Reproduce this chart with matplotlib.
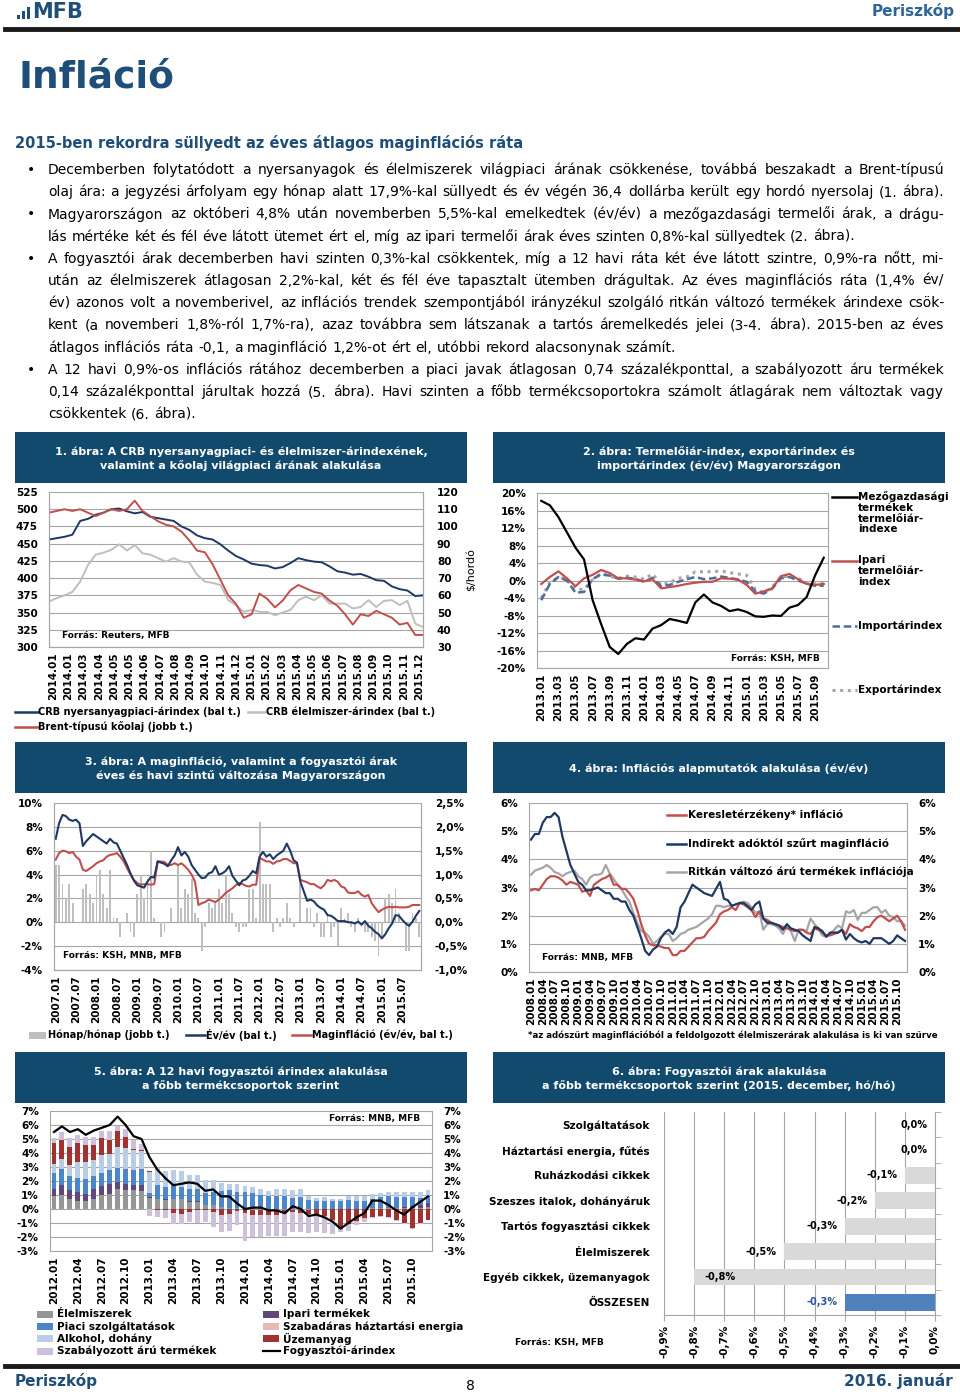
import numpy as np
import matplotlib.pyplot as plt
from matplotlib.lines import Line2D
from matplotlib.patches import Rectangle

plt.rcParams['font.family'] = ['DejaVu Sans']
plt.rcParams['font.weight'] = 'bold'
plt.rcParams['axes.linewidth'] = 0.8

W, H = 960, 1394
NAVY = '#124A6E'
HEAD = '#1F4E79'
GRID = '#A6A6A6'

# ---------------- szöveg ----------------
body_lines = [
    "Decemberben folytatódott a nyersanyagok és élelmiszerek világpiaci árának csökkenése, továbbá beszakadt a Brent-típusú",
    "olaj ára: a jegyzési árfolyam egy hónap alatt 17,9%-kal süllyedt és év végén 36,4 dollárba került egy hordó nyersolaj (1. ábra).",
    "Magyarországon az októberi 4,8% után novemberben 5,5%-kal emelkedtek (év/év) a mezőgazdasági termelői árak, a drágu-",
    "lás mértéke két és fél éve látott ütemet ért el, míg az ipari termelői árak éves szinten 0,8%-kal süllyedtek (2. ábra).",
    "A fogyasztói árak decemberben havi szinten 0,3%-kal csökkentek, míg a 12 havi ráta két éve látott szintre, 0,9%-ra nőtt, mi-",
    "után az élelmiszerek átlagosan 2,2%-kal, két és fél éve tapasztalt ütemben drágultak. Az éves maginflációs ráta (1,4% év/",
    "év) azonos volt a novemberivel, az inflációs trendek szempontjából irányzékul szolgáló ritkán változó termékek árindexe csök-",
    "kent (a novemberi 1,8%-ról 1,7%-ra), azaz továbbra sem látszanak a tartós áremelkedés jelei (3-4. ábra). 2015-ben az éves",
    "átlagos inflációs ráta -0,1, a maginfláció 1,2%-ot ért el, utóbbi rekord alacsonynak számít.",
    "A 12 havi 0,9%-os inflációs rátához decemberben a piaci javak átlagosan 0,74 százalékponttal, a szabályozott áru termékek",
    "0,14 százalékponttal járultak hozzá (5. ábra). Havi szinten a főbb termékcsoportokra számolt átlagárak nem változtak vagy",
    "csökkentek (6. ábra).",
]
bullet_rows = [0, 2, 4, 9]
ragged_rows = [3, 8, 11]

# ---------------- 1. ábra (félhavi leolvasás 2014.01 - 2015.12) ----------------
c1_labels = ['2014.01', '2014.01', '2014.03', '2014.04', '2014.05', '2014.05', '2014.06',
             '2014.07', '2014.08', '2014.09', '2014.10', '2014.11', '2014.12', '2015.01',
             '2015.02', '2015.03', '2015.04', '2015.05', '2015.06', '2015.07', '2015.08',
             '2015.09', '2015.10', '2015.11', '2015.12']
c1_crb = [456, 458, 460, 463, 483, 486, 492, 495, 500, 501,
          497, 494, 496, 489, 487, 485, 483, 475, 470, 462,
          458, 456, 449, 440, 432, 427, 421, 419, 418, 414,
          416, 422, 429, 426, 424, 423, 417, 410, 408, 405,
          406, 402, 397, 396, 388, 384, 382, 374, 375]
c1_food = [366, 371, 375, 380, 395, 419, 434, 437, 441, 449,
           440, 448, 436, 434, 429, 424, 429, 424, 423, 405,
           395, 393, 390, 368, 361, 351, 354, 351, 351, 346,
           350, 354, 368, 373, 368, 375, 363, 363, 363, 356,
           358, 368, 358, 367, 368, 361, 367, 334, 329]
c1_brent = [108, 109, 110, 109, 110, 108, 106, 108, 110, 109,
            110, 115, 109, 106, 103, 101, 100, 97, 92, 86,
            85, 78, 69, 60, 55, 47, 49, 61, 58, 53,
            57, 63, 66, 64, 62, 61, 57, 54, 49, 43,
            49, 48, 51, 49, 47, 43, 44, 37, 37]

# ---------------- 2. ábra (havi, 2013.01 - 2015.10) ----------------
c2_labels = ['2013.01', '2013.03', '2013.05', '2013.07', '2013.09', '2013.11',
             '2014.01', '2014.03', '2014.05', '2014.07', '2014.09', '2014.11',
             '2015.01', '2015.03', '2015.05', '2015.07', '2015.09']
c2_agri = [18.2, 17.2, 14.5, 11.0, 7.5, 4.8, -4.5, -10.0, -15.2, -16.8,
           -14.5, -13.2, -13.5, -11.0, -10.2, -8.8, -9.2, -9.7, -5.0, -3.2,
           -5.0, -5.8, -7.0, -6.6, -7.2, -8.2, -8.3, -8.0, -8.1, -6.2,
           -5.6, -3.8, 1.2, 5.2]
c2_ind = [-0.8, 0.8, 2.1, 0.5, -1.3, 0.5, 1.3, 2.4, 1.7, 0.5,
          0.5, 0.2, -0.2, 0.3, -1.8, -1.5, -1.2, -0.8, -0.5, -0.3,
          -0.3, 0.5, 0.4, 0.2, -1.0, -3.0, -2.5, -1.8, 1.0, 1.5,
          0.3, -0.8, -1.0, -0.8]
c2_imp = [-4.5, -0.8, 0.8, 0.0, -2.8, -2.6, 0.3, 1.5, 1.1, 0.4,
          0.6, 0.4, -0.3, 0.6, -1.3, -1.0, -0.3, 0.3, 0.8, 0.3,
          0.5, 0.9, 0.6, 0.2, -0.3, -2.5, -3.0, -1.8, 0.5, 0.8,
          0.0, -0.7, -1.2, -1.2]
c2_exp = [-4.0, -0.5, 0.8, 0.2, -2.0, -2.0, 0.2, 1.5, 1.0, 0.5,
          1.0, 0.8, 0.3, 1.5, -1.0, -0.5, 0.5, 0.8, 2.0, 2.0,
          2.0, 2.2, 1.8, 1.5, 1.2, -2.0, -2.8, -1.5, 0.8, 1.0,
          0.5, -0.5, -0.8, -0.5]

# ---------------- 3. ábra (havi, 2007.01 - 2015.12) ----------------
c3_labels = [f'{y}.{m}' for y in range(2007, 2016) for m in ('01', '07')]
c3_mm = [1.2, 1.2, 0.8, 0.5, 0.8, 0.4, 0.0, 0.0, 0.7, 0.8, 0.6, 0.4,
         1.0, 1.1, 0.6, 0.3, 1.1, 0.1, 0.1, -0.3, 0.0, 0.2, -0.2, -0.3,
         0.6, 1.0, 0.5, 0.9, 1.5, 0.1, 0.0, -0.3, -0.2, 0.0, 0.3, 0.0,
         1.2, 0.3, 0.7, 0.6, 0.9, 0.2, 0.1, -0.6, -0.1, 0.4, 0.3, 0.4,
         0.7, 0.4, 1.0, 0.6, 0.2, -0.1, -0.2, -0.1, -0.1, 0.7, 0.7, 0.1,
         2.1, 0.8, 0.8, 0.8, -0.2, 0.1, -0.1, 0.1, 0.4, 0.1, -0.1, 0.0,
         0.8, 0.0, 0.3, 0.3, -0.1, 0.2, -0.3, -0.3, 0.2, -0.3, -0.1, -0.5,
         0.3, 0.1, 0.2, -0.1, -0.2, 0.1, -0.1, -0.2, -0.2, -0.3, -0.4, -0.7,
         -0.3, 0.5, 0.6, 0.4, 0.7, 0.2, 0.0, -0.6, -0.6, 0.2, 0.1, -0.3]
c3_yy = [7.0, 8.3, 9.0, 8.9, 8.6, 8.5, 8.6, 8.3, 6.4, 6.8, 7.1, 7.4,
         7.2, 7.0, 6.8, 6.6, 7.0, 6.7, 6.6, 6.0, 5.4, 4.8, 4.1, 3.5,
         3.1, 3.0, 2.9, 3.4, 3.8, 3.75, 5.1, 5.0, 4.9, 4.7, 5.2, 5.6,
         6.3, 5.6, 5.9, 5.5, 4.8, 4.4, 4.0, 3.7, 3.75, 4.1, 4.2, 4.7,
         4.0, 4.1, 4.3, 4.7, 3.9, 3.5, 3.1, 3.5, 3.6, 3.9, 4.3, 4.1,
         5.5, 5.9, 5.5, 5.7, 5.3, 5.6, 5.8, 6.0, 6.6, 6.0, 5.2, 5.0,
         3.4, 2.6, 1.8, 1.9, 1.75, 1.4, 1.2, 1.05, 0.6, 0.55, 0.35, 0.1,
         0.1, 0.1, 0.0, 0.0, -0.1, 0.05, -0.2, 0.1, -0.3, -0.5, -0.8, -1.0,
         -1.35, -1.0, -0.5, -0.1, 0.6, 0.55, 0.2, -0.1, -0.3, 0.05, 0.55, 0.95]
c3_core = [5.25, 5.8, 6.0, 5.95, 5.8, 5.9, 5.5, 5.25, 4.4, 4.3, 4.5, 4.7,
           4.95, 5.1, 5.2, 5.5, 5.65, 5.7, 5.8, 5.5, 5.1, 4.55, 4.0, 3.55,
           3.3, 3.15, 3.2, 3.2, 3.15, 3.2, 5.1, 5.1, 5.05, 4.8, 4.8, 4.95,
           4.8, 4.95, 4.7, 4.4, 4.0, 3.4, 1.45, 1.6, 1.7, 1.9, 1.8, 1.7,
           1.9, 2.15, 2.45, 2.65, 2.85, 3.1, 3.3, 3.2, 3.05, 3.0, 3.15, 3.15,
           5.4, 5.25, 5.1, 5.1, 4.9, 5.1, 5.15, 5.3, 5.3, 5.15, 4.95, 4.95,
           3.55, 3.45, 3.35, 3.2, 3.2, 3.0, 2.85, 3.1, 3.55, 3.45, 3.55, 3.4,
           3.0, 2.9, 2.5, 2.45, 2.45, 2.6, 2.3, 2.15, 2.3, 1.6, 1.2, 0.85,
           1.05, 1.2, 1.3, 1.25, 1.3, 1.25, 1.25, 1.25, 1.3, 1.45, 1.45, 1.45]

# ---------------- 4. ábra (havi, 2008.01 - 2015.12) ----------------
c4_labels = [f'{y}.{m}' for y in range(2008, 2016) for m in ('01', '04', '07', '10')]
c4_demand = [2.9, 2.95, 2.9, 3.1, 3.3, 3.4, 3.4, 3.35, 3.25, 3.1, 3.2, 3.15,
             3.1, 2.85, 2.9, 2.7, 3.1, 3.2, 3.3, 3.35, 3.45, 3.1, 3.1, 2.95,
             2.95, 2.8, 2.6, 2.2, 1.7, 1.3, 1.0, 0.95, 0.95, 0.9, 0.85, 0.85,
             0.6, 0.6, 0.75, 0.75, 0.9, 1.05, 1.2, 1.2, 1.25, 1.45, 1.6, 1.75,
             2.05, 2.15, 2.2, 2.3, 2.2, 2.45, 2.4, 2.3, 2.2, 1.95, 2.15, 1.9,
             1.85, 1.75, 1.7, 1.65, 1.6, 1.55, 1.5, 1.45, 1.5, 1.5, 1.4, 1.35,
             1.55, 1.5, 1.4, 1.3, 1.3, 1.35, 1.4, 1.5, 1.35, 1.7, 1.6, 1.55,
             1.45, 1.6, 1.6, 1.8, 1.95, 2.0, 1.9, 1.8, 1.9, 2.0, 1.8, 1.5]
c4_core = [4.7, 4.9, 4.9, 5.3, 5.5, 5.5, 5.65, 5.5, 4.8, 4.3, 3.8, 3.5,
           3.2, 3.1, 2.9, 2.9, 2.95, 3.0, 2.9, 2.8, 2.8, 2.6, 2.6, 2.5,
           2.5, 2.2, 2.0, 1.6, 1.2, 0.75, 0.6, 0.8, 0.9, 1.2, 1.4, 1.5,
           1.35, 1.6, 2.3, 2.5, 2.8, 3.1, 3.0, 2.9, 2.8, 2.75, 2.7, 2.95,
           3.2, 2.6, 2.55, 2.35, 2.4, 2.45, 2.45, 2.35, 2.2, 2.4, 2.5, 1.9,
           1.75, 1.75, 1.7, 1.65, 1.5, 1.7, 1.55, 1.5, 1.45, 1.3, 1.2, 1.1,
           1.6, 1.55, 1.45, 1.25, 1.4, 1.4, 1.4, 1.5, 1.15, 1.35, 1.2, 1.1,
           1.05, 1.1, 1.0, 1.2, 1.2, 1.2, 1.1, 1.0, 1.1, 1.3, 1.2, 1.1]
c4_sticky = [3.45, 3.6, 3.65, 3.7, 3.8, 3.7, 3.55, 3.5, 3.4, 3.5, 3.55, 3.6,
             3.4, 3.3, 3.1, 3.35, 3.45, 3.45, 3.5, 3.8, 3.5, 3.3, 3.1, 2.95,
             2.7, 2.5, 2.1, 1.75, 1.45, 1.4, 1.25, 1.0, 1.1, 1.25, 1.35, 1.35,
             1.1, 1.2, 1.35, 1.4, 1.5, 1.55, 1.6, 1.7, 1.8, 1.9, 2.05, 2.35,
             2.35, 2.3, 2.35, 2.35, 2.4, 2.45, 2.5, 2.45, 2.3, 2.1, 2.15, 1.5,
             1.7, 1.7, 1.65, 1.55, 1.35, 1.65, 1.45, 1.1, 1.5, 1.5, 1.45, 1.9,
             1.7, 1.55, 1.3, 1.25, 1.35, 1.5, 1.65, 1.55, 2.15, 2.1, 2.2, 1.85,
             2.1, 2.1, 2.2, 2.3, 2.3, 2.1, 2.2, 2.0, 1.95, 1.8, 1.8, 1.65]

# ---------------- 5. ábra (havi, 2012.01 - 2015.12, hozzájárulás, %-pont) ----------------
c5_labels = [f'{y}.{m}' for y in range(2012, 2016) for m in ('01', '04', '07', '10')]
c5_food = [0.95, 1.0, 0.7, 0.6, 0.55, 0.75, 1.0, 1.1, 1.45, 1.35, 1.35, 1.3,
           0.8, 0.75, 0.65, 0.7, 0.7, 0.5, 0.5, 0.3, 0.3, 0.15, 0.1, 0.05,
           0.0, -0.05, -0.05, -0.1, -0.1, -0.1, -0.1, -0.1, -0.05, 0.0, 0.0, 0.0,
           0.0, 0.0, 0.0, 0.0, 0.05, 0.05, 0.05, 0.05, 0.05, 0.1, 0.1, 0.15]
c5_ind = [0.5, 0.75, 0.65, 0.65, 0.55, 0.65, 0.65, 0.7, 0.5, 0.45, 0.4, 0.45,
          0.05, 0.0, 0.05, 0.05, 0.05, 0.05, 0.05, 0.0, 0.0, -0.05, -0.05, -0.05,
          -0.05, -0.05, -0.05, 0.0, 0.0, 0.0, 0.0, 0.0, 0.0, 0.0, 0.0, 0.0,
          0.0, 0.0, 0.0, 0.0, 0.05, 0.05, 0.05, 0.05, 0.1, 0.15, 0.2, 0.3]
c5_serv = [1.1, 1.1, 1.0, 1.0, 1.05, 0.95, 0.95, 1.0, 0.95, 1.05, 1.05, 1.1,
           0.3, 0.95, 0.85, 0.9, 0.85, 0.9, 0.9, 0.85, 0.95, 1.15, 1.25, 1.2,
           1.2, 1.15, 1.0, 0.9, 0.95, 0.9, 0.8, 0.85, 0.65, 0.6, 0.6, 0.55,
           0.55, 0.65, 0.6, 0.6, 0.65, 0.75, 0.8, 0.75, 0.7, 0.6, 0.5, 0.5]
c5_energy = [0.0, 0.0, 0.0, 0.0, 0.0, 0.0, 0.0, 0.0, 0.0, 0.05, 0.05, 0.0,
             0.0, 0.05, 0.0, 0.0, 0.0, 0.0, 0.05, 0.0, 0.0, 0.0, 0.0, 0.05,
             0.0, 0.0, 0.0, 0.0, 0.05, 0.05, 0.05, 0.0, 0.0, 0.0, 0.0, 0.0,
             0.0, 0.0, 0.0, 0.0, 0.0, 0.0, 0.0, 0.0, 0.0, 0.0, 0.0, 0.0]
c5_alco = [0.7, 0.7, 0.8, 1.1, 1.2, 1.15, 1.25, 1.15, 1.5, 1.45, 1.4, 1.3,
           1.5, 1.15, 1.15, 1.15, 1.1, 1.0, 0.9, 0.9, 0.8, 0.55, 0.45, 0.5,
           0.45, 0.45, 0.45, 0.4, 0.45, 0.5, 0.5, 0.55, 0.25, 0.2, 0.25, 0.2,
           0.2, 0.3, 0.3, 0.3, 0.35, 0.3, 0.3, 0.35, 0.35, 0.35, 0.4, 0.4]
c5_fuel = [1.45, 1.35, 1.3, 1.4, 1.2, 1.1, 1.2, 1.0, 1.2, 0.8, 0.05, 0.05,
           0.1, -0.05, -0.1, -0.3, -0.35, -0.2, -0.05, -0.1, -0.2, -0.35, -0.3, -0.1,
           -0.25, -0.3, -0.3, -0.35, -0.3, -0.15, -0.1, -0.2, -0.3, -0.4, -0.5, -0.8,
           -1.3, -1.05, -0.85, -0.65, -0.55, -0.5, -0.55, -0.8, -1.0, -1.35, -1.0, -0.75]
c5_reg = [0.4, 0.6, 0.6, 0.55, 0.6, 0.55, 0.5, 0.6, 0.35, 0.55, 0.6, 0.45,
          -0.5, -0.5, -0.55, -0.8, -0.75, -0.7, -0.95, -0.85, -1.1, -1.25, -1.25, -1.0,
          -1.95, -1.6, -1.6, -1.45, -1.55, -1.65, -1.45, -1.35, -1.35, -1.25, -1.2, -0.95,
          -0.35, -0.5, -0.3, -0.25, -0.1, -0.1, -0.1, -0.05, -0.05, -0.05, -0.05, -0.05]
c5_cpi = [5.5, 5.9, 5.5, 5.7, 5.3, 5.6, 5.8, 6.0, 6.6, 6.0, 5.2, 5.0,
          3.7, 2.8, 2.2, 1.7, 1.8, 1.9, 1.8, 1.3, 1.4, 0.9, 0.9, 0.4,
          0.0, 0.1, 0.1, -0.1, -0.1, -0.3, 0.2, 0.0, -0.5, -0.4, -0.6, -0.9,
          -1.4, -1.0, -0.6, -0.3, 0.6, 0.6, 0.3, -0.1, -0.4, 0.1, 0.5, 0.9]

# ---------------- 6. ábra ----------------
c6_cats = ['Szolgáltatások', 'Háztartási energia, fűtés', 'Ruházkodási cikkek',
           'Szeszes italok, dohányáruk', 'Tartós fogyasztási cikkek', 'Élelmiszerek',
           'Egyéb cikkek, üzemanyagok', 'ÖSSZESEN']
c6_vals = [0.0, 0.0, -0.1, -0.2, -0.3, -0.5, -0.8, -0.3]


fig = plt.figure(figsize=(W / 100, H / 100), dpi=100)


def px_axes(l, t, r, b):
    return fig.add_axes([l / W, 1 - b / H, (r - l) / W, (b - t) / H])


def ftext(x, y, s, **kw):
    return fig.text(x / W, 1 - y / H, s, **kw)


def fline(x0, x1, y, **kw):
    fig.add_artist(Line2D([x0 / W, x1 / W], [1 - y / H, 1 - y / H], **kw))


def frect(x, y, w, h, color):
    fig.add_artist(Rectangle((x / W, 1 - (y + h) / H), w / W, h / H,
                             facecolor=color, lw=0))


def title_box(l, t, r, b, text):
    frect(l, t, r - l, b - t, NAVY)
    ftext((l + r) / 2, (t + b) / 2 + 1, text, ha='center', va='center',
          color='white', fontsize=8, linespacing=1.3)


def style(ax):
    ax.spines['top'].set_visible(False)
    for s in ax.spines.values():
        s.set_color(GRID)
    ax.tick_params(labelsize=7.5, length=0, pad=4)


# ---------------- fejléc ----------------
frect(17, 15, 3, 4, HEAD)
frect(22, 11, 3, 8, HEAD)
frect(27, 7, 3, 12, HEAD)
ftext(32, 12, 'MFB', fontsize=15, color=HEAD, va='center')
ftext(955, 11, 'Periszkóp', fontsize=11, color='#2E6496', va='center', ha='right')
fline(5, 958, 29, color='#1A1A1A', lw=3.5)
ftext(18, 78, 'Infláció', fontsize=27, color=HEAD, va='center')
ftext(15, 143, '2015-ben rekordra süllyedt az éves átlagos maginflációs ráta',
      fontsize=10.5, color=HEAD, va='center')

# ---------------- sorkizárt törzsszöveg ----------------
renderer = fig.canvas.get_renderer()
BODY_FS = 10.0
LEFT, RIGHT = 48, 944


def place_line(y, line, justify):
    fs = BODY_FS
    words = line.split(' ')
    while True:
        arts = [ftext(LEFT, y, w, fontsize=fs, fontweight='normal', va='center')
                for w in words]
        widths = [a.get_window_extent(renderer).width for a in arts]
        space = fs * 0.32 * 100 / 72
        if not justify:
            gap = space
            break
        gap = (RIGHT - LEFT - sum(widths)) / (len(words) - 1)
        if gap >= space * 0.8:
            break
        for a in arts:
            a.remove()
        fs -= 0.2
    x = LEFT
    for a, w in zip(arts, widths):
        a.set_x(x / W)
        x += w + gap


for i, line in enumerate(body_lines):
    y = 170 + i * 22.2
    if i in bullet_rows:
        ftext(27, y, '•', fontsize=10, fontweight='normal', va='center')
    place_line(y, line, i not in ragged_rows)

# ---------------- 1. ábra ----------------
title_box(15, 432, 467, 483, '1. ábra: A CRB nyersanyagpiaci- és élelmiszer-árindexének,\n'
                             'valamint a kőolaj világpiaci árának alakulása')
t1 = np.arange(len(c1_crb)) / 2
ax1 = px_axes(49, 492, 423, 647)
style(ax1)
ax1.grid(axis='y', color=GRID, lw=0.8)
ax1.set_axisbelow(True)
ax1.plot(t1, c1_food, color='#BFBFBF', lw=1.4)
ax1.plot(t1, c1_crb, color='#1F3864', lw=1.4)
ax1.set_ylim(300, 525)
ax1.set_yticks(np.arange(300, 526, 25))
ax1.set_xlim(0, 24)
ax1.set_xticks(np.linspace(0.25, 23.75, len(c1_labels)))
ax1.set_xticklabels(c1_labels, rotation=90)
ax1.tick_params(axis='y', pad=8)
ax1r = ax1.twinx()
style(ax1r)
ax1r.plot(t1, c1_brent, color='#C0504D', lw=1.4)
ax1r.set_ylim(30, 120)
ax1r.set_yticks(np.arange(30, 121, 10))
ax1r.tick_params(axis='y', pad=10)
ax1r.set_ylabel('$/hordó', fontsize=8, labelpad=6)
ax1.text(0.035, 0.06, 'Forrás: Reuters, MFB', transform=ax1.transAxes, fontsize=6.5)
fline(15, 38, 712, color='#1F3864', lw=1.8)
ftext(38, 712, 'CRB nyersanyagpiaci-árindex (bal t.)', fontsize=7, va='center')
fline(248, 265, 712, color='#BFBFBF', lw=1.8)
ftext(266, 712, 'CRB élelmiszer-árindex (bal t.)', fontsize=7, va='center')
fline(15, 38, 727, color='#C0504D', lw=1.8)
ftext(38, 727, 'Brent-típusú kőolaj (jobb t.)', fontsize=7, va='center')

# ---------------- 2. ábra ----------------
title_box(493, 432, 945, 483, '2. ábra: Termelőiár-index, exportárindex és\n'
                              'importárindex (év/év) Magyarországon')
x2 = np.arange(len(c2_agri))
ax2 = px_axes(537, 493, 828, 668)
style(ax2)
ax2.grid(axis='y', color=GRID, lw=0.8)
ax2.set_axisbelow(True)
ax2.plot(x2, c2_exp, color='#A6A6A6', lw=2.2, ls=(0, (1, 1.5)))
ax2.plot(x2, c2_imp, color='#4F6D9A', lw=1.8, ls=(0, (3, 1.5)))
ax2.plot(x2, c2_ind, color='#C0504D', lw=1.6)
ax2.plot(x2, c2_agri, color='black', lw=1.6)
ax2.set_ylim(-20, 20)
ax2.set_yticks(np.arange(-20, 21, 4))
ax2.set_yticklabels([f'{v}%' for v in range(-20, 21, 4)])
ax2.set_xlim(-0.5, len(c2_agri) - 0.5)
ax2.set_xticks(np.arange(0, len(c2_agri), 2))
ax2.set_xticklabels(c2_labels, rotation=90)
ax2.tick_params(axis='y', pad=8)
ax2.text(0.97, 0.04, 'Forrás: KSH, MFB', transform=ax2.transAxes, fontsize=6.5, ha='right')
fline(832, 857, 497, color='black', lw=1.8)
ftext(858, 491, 'Mezőgazdasági\ntermékek\ntermelőiár-\nindexe', fontsize=7.5, va='top',
      linespacing=1.1)
fline(832, 857, 561, color='#C0504D', lw=1.8)
ftext(858, 555, 'Ipari\ntermelőiár-\nindex', fontsize=7.5, va='top', linespacing=1.1)
fline(832, 857, 626, color='#4F6D9A', lw=1.8, ls=(0, (3, 1.5)))
ftext(858, 626, 'Importárindex', fontsize=7.5, va='center')
fline(832, 857, 690, color='#A6A6A6', lw=2.2, ls=(0, (1, 1.5)))
ftext(858, 690, 'Exportárindex', fontsize=7.5, va='center')

# ---------------- 3. ábra ----------------
title_box(15, 742, 467, 793, '3. ábra: A maginfláció, valamint a fogyasztói árak\n'
                             'éves és havi szintű változása Magyarországon')
x3 = np.arange(len(c3_yy))
ax3 = px_axes(54, 803, 421, 970)
ax3r = ax3.twinx()
style(ax3)
style(ax3r)
ax3r.grid(axis='y', color=GRID, lw=0.8)
ax3r.set_axisbelow(True)
ax3r.bar(x3, c3_mm, width=0.55, color='#BFBFBF')
ax3r.set_ylim(-1.0, 2.5)
ax3r.set_yticks(np.arange(-1.0, 2.51, 0.5))
ax3r.set_yticklabels([f'{v:.1f}%'.replace('.', ',') for v in np.arange(-1.0, 2.51, 0.5)])
ax3r.tick_params(axis='y', pad=10)
ax3.set_zorder(ax3r.get_zorder() + 1)
ax3.patch.set_visible(False)
ax3.plot(x3, c3_core, color='#C0504D', lw=1.5)
ax3.plot(x3, c3_yy, color='#1F3864', lw=1.5)
ax3.set_ylim(-4, 10)
ax3.set_yticks(np.arange(-4, 11, 2))
ax3.set_yticklabels([f'{v}%' for v in range(-4, 11, 2)])
ax3.set_xlim(-0.5, len(c3_yy) - 0.5)
ax3.set_xticks(np.arange(0, len(c3_yy), 6))
ax3.set_xticklabels(c3_labels, rotation=90)
ax3.tick_params(axis='y', pad=8)
ax3.text(0.025, 0.07, 'Forrás: KSH, MNB, MFB', transform=ax3.transAxes, fontsize=6.5)
frect(29, 1032, 17, 7, '#BFBFBF')
ftext(48, 1035, 'Hónap/hónap (jobb t.)', fontsize=7, va='center')
fline(186, 205, 1035, color='#1F3864', lw=1.8)
ftext(206, 1035, 'Év/év (bal t.)', fontsize=7, va='center')
fline(292, 311, 1035, color='#C0504D', lw=1.8)
ftext(312, 1035, 'Maginfláció (év/év, bal t.)', fontsize=7, va='center')

# ---------------- 4. ábra ----------------
title_box(493, 742, 945, 793, '4. ábra: Inflációs alapmutatók alakulása (év/év)')
x4 = np.arange(len(c4_core))
ax4 = px_axes(529, 803, 907, 972)
style(ax4)
ax4.grid(axis='y', color=GRID, lw=0.8)
ax4.set_axisbelow(True)
ax4.plot(x4, c4_sticky, color='#A6A6A6', lw=1.6)
ax4.plot(x4, c4_demand, color='#C0504D', lw=1.6)
ax4.plot(x4, c4_core, color='#1F3864', lw=1.6)
ax4.set_ylim(0, 6)
ax4.set_yticks(range(7))
ax4.set_yticklabels([f'{v}%' for v in range(7)])
ax4.tick_params(axis='y', labelright=True, pad=8)
ax4.set_xlim(-0.5, len(c4_core) - 0.5)
ax4.set_xticks(np.arange(0, len(c4_core), 3))
ax4.set_xticklabels(c4_labels, rotation=90)
ax4.text(0.035, 0.07, 'Forrás: MNB, MFB', transform=ax4.transAxes, fontsize=6.5)
fline(667, 686, 815, color='#C0504D', lw=1.8)
ftext(688, 815, 'Keresletérzékeny* infláció', fontsize=7.5, va='center')
fline(667, 686, 844, color='#1F3864', lw=1.8)
ftext(688, 844, 'Indirekt adóktól szűrt maginfláció', fontsize=7.5, va='center')
fline(667, 686, 872, color='#A6A6A6', lw=1.8)
ftext(688, 872, 'Ritkán változó árú termékek inflációja', fontsize=7.5, va='center')
ftext(528, 1035, '*az adószűrt maginflációból a feldolgozott élelmiszerárak alakulása is ki van szűrve',
      fontsize=6.2, va='center')

# ---------------- 5. ábra ----------------
title_box(15, 1052, 467, 1103, '5. ábra: A 12 havi fogyasztói árindex alakulása\n'
                               'a főbb termékcsoportok szerint')
x5 = np.arange(len(c5_cpi))
ax5 = px_axes(50, 1111, 432, 1251)
style(ax5)
ax5.grid(axis='y', color=GRID, lw=0.8)
ax5.set_axisbelow(True)
c5_series = [('Élelmiszerek', c5_food, '#969696'),
             ('Ipari termékek', c5_ind, '#60497A'),
             ('Piaci szolgáltatások', c5_serv, '#4A86C8'),
             ('Szabadáras háztartási energia', c5_energy, '#E6B9B8'),
             ('Alkohol, dohány', c5_alco, '#B9CDE5'),
             ('Üzemanyag', c5_fuel, '#A23230'),
             ('Szabályozott árú termékek', c5_reg, '#CCC0DA')]
pos_base = np.zeros(len(x5))
neg_base = np.zeros(len(x5))
for name, vals, col in c5_series:
    v = np.array(vals)
    pos = np.where(v > 0, v, 0)
    neg = np.where(v < 0, v, 0)
    ax5.bar(x5, pos, bottom=pos_base, width=0.62, color=col)
    ax5.bar(x5, neg, bottom=neg_base, width=0.62, color=col)
    pos_base += pos
    neg_base += neg
ax5.plot(x5, c5_cpi, color='black', lw=1.6)
ax5.set_ylim(-3, 7)
ax5.set_yticks(range(-3, 8))
ax5.set_yticklabels([f'{v}%' for v in range(-3, 8)])
ax5.tick_params(axis='y', labelright=True, pad=8)
ax5.set_xlim(-0.5, len(c5_cpi) - 0.5)
ax5.set_xticks(np.arange(0, len(c5_cpi), 3))
ax5.set_xticklabels(c5_labels, rotation=90)
ax5.text(0.97, 0.93, 'Forrás: MNB, MFB', transform=ax5.transAxes, fontsize=6.5, ha='right')
legend_left = [c5_series[0], c5_series[2], c5_series[4], c5_series[6]]
legend_right = [c5_series[1], c5_series[3], c5_series[5]]
for k, (name, vals, col) in enumerate(legend_left):
    y = 1314 + k * 12.4
    frect(37, y - 3.5, 16, 7, col)
    ftext(57, y, name, fontsize=7.5, va='center')
for k, (name, vals, col) in enumerate(legend_right):
    y = 1314 + k * 12.4
    frect(263, y - 3.5, 16, 7, col)
    ftext(283, y, name, fontsize=7.5, va='center')
fline(263, 280, 1314 + 3 * 12.4, color='black', lw=1.6)
ftext(283, 1314 + 3 * 12.4, 'Fogyasztói-árindex', fontsize=7.5, va='center')

# ---------------- 6. ábra ----------------
title_box(493, 1052, 945, 1103, '6. ábra: Fogyasztói árak alakulása\n'
                                'a főbb termékcsoportok szerint (2015. december, hó/hó)')
y6 = np.arange(len(c6_cats))
ax6 = px_axes(664, 1112, 935, 1315)
ax6.spines['top'].set_visible(False)
ax6.spines['left'].set_visible(False)
for s in ax6.spines.values():
    s.set_color(GRID)
colors6 = ['#D9D9D9'] * (len(c6_cats) - 1) + ['#4F81BD']
ax6.barh(y6, c6_vals, height=0.66, color=colors6)
ax6.grid(axis='x', color=GRID, lw=0.8)
ax6.set_axisbelow(True)
ax6.set_xlim(-0.9, 0.0)
ticks6 = np.round(np.arange(-0.9, 0.01, 0.1), 1)
ax6.set_xticks(ticks6)
ax6.set_xticklabels([(f'{v:.1f}%'.replace('.', ',')).replace('-0,0', '0,0') for v in ticks6],
                    rotation=90)
ax6.set_ylim(len(c6_cats) - 0.5, -0.5)
ax6.set_yticks(y6)
ax6.set_yticklabels(c6_cats)
ax6.set_yticks(np.arange(-0.5, len(c6_cats), 1), minor=True)
ax6.tick_params(axis='y', which='major', length=0, pad=10, labelsize=7.5)
ax6.tick_params(axis='y', which='minor', left=False, right=True, length=4, color=GRID)
ax6.tick_params(axis='x', length=4, color=GRID, labelsize=7.5, pad=3)
for yy, v, col in zip(y6, c6_vals, colors6):
    lab = (f'{v:.1f}%'.replace('.', ',')).replace('-0,0', '0,0')
    tcol = '#2F5597' if col == '#4F81BD' else 'black'
    if v - 0.13 < -0.9:
        ax6.text(v + 0.035, yy, lab, ha='left', va='center', fontsize=7, color=tcol)
    else:
        ax6.text(v - 0.025, yy, lab, ha='right', va='center', fontsize=7, color=tcol)
ftext(515, 1342, 'Forrás: KSH, MFB', fontsize=6.5, va='center')

# ---------------- lábléc ----------------
fline(5, 958, 1366, color='#1A1A1A', lw=3.5)
ftext(15, 1381, 'Periszkóp', fontsize=11, color=HEAD, va='center')
ftext(466, 1386, '8', fontsize=10, fontweight='normal', va='center')
ftext(953, 1381, '2016. január', fontsize=11, color=HEAD, va='center', ha='right')

fig.savefig('out.png', dpi=100)
